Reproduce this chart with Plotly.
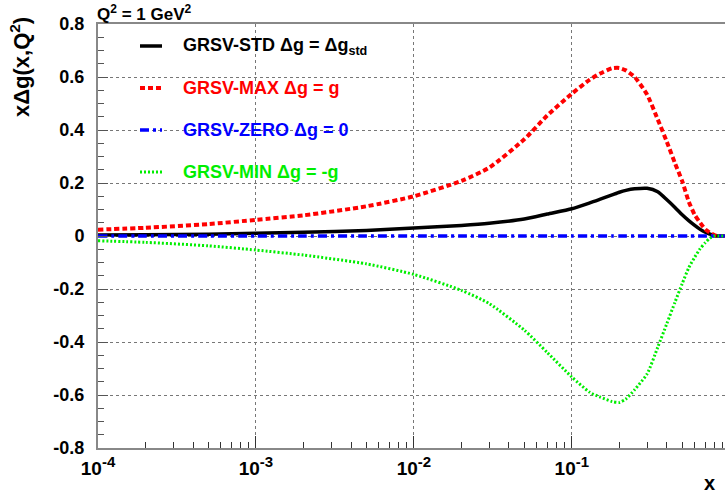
import plotly.graph_objects as go

# x grid of the parametrisations
x_vals = [1e-4, 2e-4, 5e-4, 1e-3, 2e-3, 5e-3, 1e-2, 2e-2, 3e-2, 5e-2, 7e-2,
          0.1, 0.13, 0.15, 0.18, 0.2, 0.22, 0.25, 0.3, 0.35, 0.4, 0.45, 0.5,
          0.55, 0.6, 0.65, 0.7, 0.75, 0.8, 0.85, 0.93]

grsv_std = [0.004, 0.005, 0.007, 0.010, 0.014, 0.021, 0.030, 0.040, 0.048, 0.064, 0.083,
            0.103, 0.125, 0.138, 0.155, 0.165, 0.172, 0.178, 0.180, 0.167, 0.137, 0.108, 0.080,
            0.058, 0.040, 0.025, 0.014, 0.007, 0.001, 0.0, 0.0]

grsv_max = [0.024, 0.031, 0.045, 0.061, 0.078, 0.112, 0.150, 0.208, 0.258, 0.365, 0.455,
            0.537, 0.590, 0.612, 0.633, 0.634, 0.625, 0.600, 0.533, 0.440, 0.355, 0.275, 0.207,
            0.130, 0.080, 0.050, 0.025, 0.012, 0.003, 0.0, 0.0]

grsv_zero = [0.0] * len(x_vals)

grsv_min = [-0.018, -0.024, -0.037, -0.053, -0.072, -0.105, -0.145, -0.205, -0.255, -0.355, -0.440,
            -0.532, -0.590, -0.607, -0.625, -0.628, -0.615, -0.580, -0.520, -0.420, -0.330, -0.250, -0.180,
            -0.120, -0.080, -0.048, -0.025, -0.008, 0.0, 0.0, 0.0]

x_tick_vals = [1e-4, 1e-3, 1e-2, 1e-1]
x_tick_exp = ["-4", "-3", "-2", "-1"]
y_tick_vals = [-0.8, -0.6, -0.4, -0.2, 0.0, 0.2, 0.4, 0.6, 0.8]
y_tick_text = ["-0.8", "-0.6", "-0.4", "-0.2", "0", "0.2", "0.4", "0.6", "0.8"]

series = [
    ("GRSV-STD \u0394g = \u0394g<sub>std</sub>", grsv_std, "#000000", "solid", 3.5),
    ("GRSV-MAX \u0394g = g", grsv_max, "#ff0000", "5px,3px", 4),
    ("GRSV-ZERO \u0394g = 0", grsv_zero, "#0000ff", "9px,4px,3px,4px", 3.5),
    ("GRSV-MIN \u0394g = -g", grsv_min, "#00ee00", "2px,2px", 3),
]

FONT = "Liberation Sans, Arial, sans-serif"

fig = go.Figure()
for name, vals, color, dash, width in series:
    fig.add_trace(go.Scatter(
        x=x_vals, y=vals, mode="lines", name=name,
        line=dict(color=color, dash=dash, width=width, shape="spline", smoothing=0.6),
        showlegend=False,
    ))

# Hand-placed legend: short line samples plus coloured labels
leg_y = [46, 88, 130, 172]
plot_left, plot_top, plot_bottom, plot_w = 98, 24, 448, 627
def px_x(p):
    return (p - plot_left) / plot_w
def px_y(p):
    return (plot_bottom - p) / (plot_bottom - plot_top)

for (name, vals, color, dash, width), ly in zip(series, leg_y):
    fig.add_shape(type="line", xref="paper", yref="paper",
                  x0=px_x(140), x1=px_x(162), y0=px_y(ly), y1=px_y(ly),
                  line=dict(color=color, dash=dash, width=width))
    fig.add_annotation(xref="paper", yref="paper", x=px_x(181), y=px_y(ly),
                       xanchor="left", yanchor="middle", showarrow=False,
                       text="<b>" + name + "</b>",
                       font=dict(family=FONT, size=18, color=color))

# Header and axis titles
fig.add_annotation(xref="paper", yref="paper", x=px_x(96), y=px_y(1),
                   xanchor="left", yanchor="top", showarrow=False, borderpad=0,
                   text="<b>Q<sup><span style='font-size:12px'>2</span></sup> = 1 GeV"
                        "<sup><span style='font-size:12px'>2</span></sup></b>",
                   font=dict(family=FONT, size=17, color="black"))
fig.add_annotation(xref="paper", yref="paper", x=px_x(20), y=px_y(67),
                   xanchor="center", yanchor="middle", showarrow=False, textangle=-90,
                   text="<b>x\u0394g(x,Q<sup>2</sup>)</b>",
                   font=dict(family=FONT, size=22, color="black"))
fig.add_annotation(xref="paper", yref="paper", x=px_x(716), y=px_y(483),
                   xanchor="right", yanchor="middle", showarrow=False, borderpad=0,
                   text="<b>x</b>",
                   font=dict(family=FONT, size=20, color="black"))

fig.update_xaxes(
    type="log", range=[-4, -0.03],
    tickvals=x_tick_vals,
    ticktext=["<b>10<sup><span style='font-size:15px'>" + e + "</span></sup></b>" for e in x_tick_exp],
    tickfont=dict(family=FONT, size=19, color="black"),
    ticks="inside", ticklen=12, tickcolor="#333", tickwidth=1,
    minor=dict(ticks="inside", ticklen=6, dtick="D1", tickcolor="#333", tickwidth=1, showgrid=False),
    showgrid=True, gridcolor="#777", griddash="dot", gridwidth=1,
    showline=True, linecolor="#888", linewidth=2, mirror=True,
    zeroline=False, ticklabelstandoff=2,
)
fig.update_yaxes(
    range=[-0.8, 0.8],
    tickvals=y_tick_vals, ticktext=["<b>" + t + "</b>" for t in y_tick_text],
    tickfont=dict(family=FONT, size=18, color="black"),
    ticks="inside", ticklen=10, tickcolor="#555", tickwidth=1,
    minor=dict(ticks="inside", ticklen=6, dtick=0.05, tickcolor="#555", tickwidth=1, showgrid=False),
    showgrid=True, gridcolor="#777", griddash="dot", gridwidth=1,
    showline=True, linecolor="#888", linewidth=2,
    zeroline=False, ticklabelstandoff=8,
)

fig.update_layout(
    width=725, height=494,
    margin=dict(l=98, r=0, t=24, b=46, pad=0),
    paper_bgcolor="white", plot_bgcolor="white",
    showlegend=False,
)

fig.write_html("out.html")
